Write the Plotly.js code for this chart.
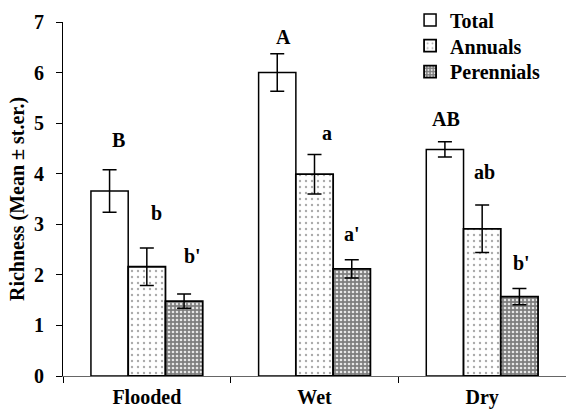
<!DOCTYPE html>
<html>
<head>
<meta charset="utf-8">
<script src="https://cdn.plot.ly/plotly-3.0.1.min.js"></script>
<style>html,body{margin:0;padding:0;background:#fff;}#chart{width:566px;height:410px;}</style>
</head>
<body>
<div id="chart"></div>
<script>
// ---- data ----
const categories = ["Flooded", "Wet", "Dry"];
const seriesNames = ["Total", "Annuals", "Perennials"];
const totalMean = [3.66, 6.0, 4.48];
const totalErr = [0.42, 0.37, 0.15];
const annualsMean = [2.16, 3.99, 2.91];
const annualsErr = [0.37, 0.39, 0.47];
const perennialsMean = [1.48, 2.12, 1.57];
const perennialsErr = [0.14, 0.18, 0.16];
const totalLetters = ["B", "A", "AB"];
const annualsLetters = ["b", "a", "ab"];
const perennialsLetters = ["b'", "a'", "b'"];
const yTicks = [0, 1, 2, 3, 4, 5, 6, 7];

// ---- styling ----
const FONT = "Liberation Serif, Times New Roman, serif";
const bargap = 1/3;
const errStyle = {type: "data", visible: true, color: "#000", thickness: 1.5, width: 7};

const means = [totalMean, annualsMean, perennialsMean];
const errs = [totalErr, annualsErr, perennialsErr];
const letters = [totalLetters, annualsLetters, perennialsLetters];
const legendIds = ["legend", "legend2", "legend3"];
const markers = [
  {color: "#ffffff", line: {color: "#000", width: 1.5}},
  {color: "#ffffff", line: {color: "#000", width: 1.8},
   pattern: {shape: ".", bgcolor: "#ffffff", fgcolor: "#555", size: 6, solidity: 0.12, fillmode: "overlay"}},
  {color: "#8a8a8a", line: {color: "#000", width: 1.8},
   pattern: {shape: ".", bgcolor: "#7e7e7e", fgcolor: "#e6e6e6", size: 4, solidity: 0.35, fillmode: "replace"}}
];

const traces = seriesNames.map((name, k) => ({
  type: "bar",
  name: name,
  x: categories,
  y: means[k],
  error_y: Object.assign({array: errs[k]}, errStyle),
  marker: markers[k],
  legend: legendIds[k],
  hoverinfo: "skip"
}));

// label offsets (px) relative to top of error bar, bar centre
const labelShiftY = [[30, 17, 23], [35, 22, 33], [38, 26, 26]];
const labelShiftX = [[9, 6, 1], [10, 12, 2], [8, 0, 2]];
const w = (1 - bargap) / 3;
const annotations = [];
for (let k = 0; k < 3; k++) {
  for (let i = 0; i < categories.length; i++) {
    annotations.push({
      x: i + (k - 1) * w, xref: "x",
      y: means[k][i] + errs[k][i], yref: "y",
      text: letters[k][i], showarrow: false,
      yanchor: "middle", xanchor: "center",
      xshift: labelShiftX[k][i], yshift: labelShiftY[k][i],
      font: {family: FONT, size: 20, color: "#000", weight: "bold"}
    });
  }
}

function legendAt(yPaper) {
  return {
    x: 0.69, y: yPaper, xanchor: "left", yanchor: "middle",
    bgcolor: "rgba(0,0,0,0)", borderwidth: 0,
    font: {family: FONT, size: 20, color: "#000", weight: "bold"},
    itemwidth: 30
  };
}

const layout = {
  width: 566, height: 410,
  margin: {l: 63, r: 0, t: 19, b: 34, pad: 0},
  paper_bgcolor: "#fff", plot_bgcolor: "#fff",
  barmode: "group", bargap: bargap, bargroupgap: 0,
  font: {family: FONT, color: "#000", size: 20, weight: "bold"},
  showlegend: true,
  legend: legendAt(1.006),
  legend2: legendAt(0.933),
  legend3: legendAt(0.860),
  xaxis: {
    type: "category", range: [-0.5, 2.5],
    showline: true, linecolor: "#666", linewidth: 1,
    ticks: "outside", tickson: "boundaries", ticklen: 6, tickcolor: "#000", tickwidth: 1,
    ticklabelstandoff: 3,
    showgrid: false, zeroline: false,
    tickfont: {family: FONT, size: 20, color: "#000", weight: "bold"},
    fixedrange: true
  },
  yaxis: {
    range: [0, 7], tickvals: yTicks, ticktext: yTicks.map(String),
    showline: true, linecolor: "#000", linewidth: 1,
    ticks: "outside", ticklen: 6, tickcolor: "#000", tickwidth: 1,
    ticklabelstandoff: 8,
    showgrid: false, zeroline: false,
    tickfont: {family: FONT, size: 20, color: "#000", weight: "bold"},
    title: {text: "Richness (Mean ± st.er.)", standoff: 4,
            font: {family: FONT, size: 20, color: "#000", weight: "bold"}},
    fixedrange: true
  },
  annotations: annotations
};

Plotly.newPlot("chart", traces, layout, {displayModeBar: false, staticPlot: true});
</script>
</body>
</html>
